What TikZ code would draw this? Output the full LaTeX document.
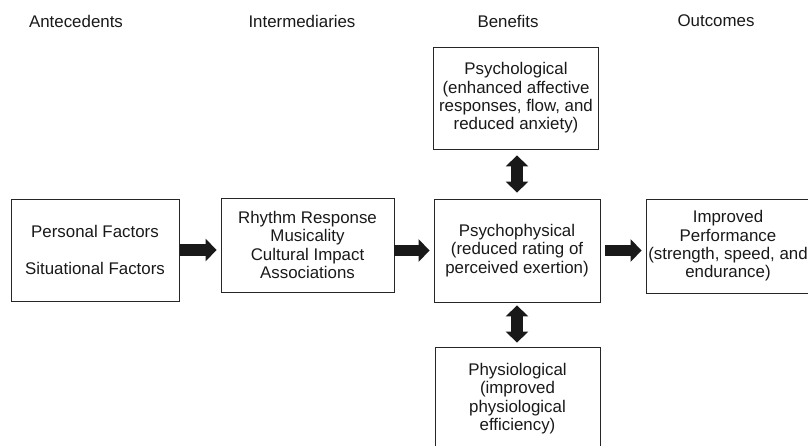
\documentclass[tikz,border=0pt]{standalone}
\usepackage{fontspec}
\setmainfont{Liberation Sans}
\usetikzlibrary{arrows.meta}
\newcommand*{\HeadingRow}[2]{% #1 = list of x/text, #2 = y
\foreach \x/\text in {#1} {
\node [draw=none] (head-\x) at (\x,#2) {\text};
}%
}

\begin{document}
\begin{tikzpicture}[x=0.03cm,y=-0.03cm,
    every node/.style={font=\fontsize{14.4}{15.6}\selectfont,text=black!90},
    box/.style={draw=black!85,line width=0.7pt,align=center,inner sep=0pt},
    fat/.style={draw=black!90,line width=0.34cm},
    >={Triangle[length=0.33cm,width=0.68cm,line width=0pt]}]

            \clip (0,0) rectangle (808,446);
            \HeadingRow{76/Antecedents,302/Intermediaries,508/Benefits,716/Outcomes}{21}
            \node [box,minimum width=5.04cm,minimum height=3.06cm] (personal) at (95,250)
                {Personal Factors\\[15.6pt]Situational Factors};
            \node [box,minimum width=5.19cm,minimum height=2.82cm] (inter) at (307.5,245)
                {Rhythm Response\\Musicality\\Cultural Impact\\Associations};
            \node [box,minimum width=4.98cm,minimum height=3.09cm] (psyphys) at (517,250.5)
                {Psychophysical\\(reduced rating of\\perceived exertion)};
            \node [box,minimum width=4.92cm,minimum height=2.82cm] (perform) at (728,246)
                {Improved\\Performance\\(strength, speed, and\\endurance)};
            \node [box,minimum width=4.95cm,minimum height=3.06cm] (psych) at (516,98)
                {Psychological\\(enhanced affective\\responses, flow, and\\reduced anxiety)};
            \node [box,minimum width=4.95cm,minimum height=3.09cm] (physio) at (517.5,398.5)
                {Physiological\\(improved\\physiological\\efficiency)};
            \draw [fat,->,shorten <=0.03cm,shorten >=0.12cm] (personal.east) -- (personal.east -| inter.west);
            \draw [fat,->,shorten >=0.12cm] (inter.east |- psyphys.west) -- (psyphys.west);
            \draw [fat,->,shorten <=0.15cm,shorten >=0.12cm] (psyphys.east) -- (psyphys.east -| perform.west);
            \draw [fat,<->,shorten <=0.18cm,shorten >=0.18cm] (psyphys.north) -- (psyphys.north |- psych.south);
            \draw [fat,<->,shorten <=0.09cm,shorten >=0.12cm] (psyphys.south) -- (psyphys.south |- physio.north);
        \end{tikzpicture}
\end{document}
